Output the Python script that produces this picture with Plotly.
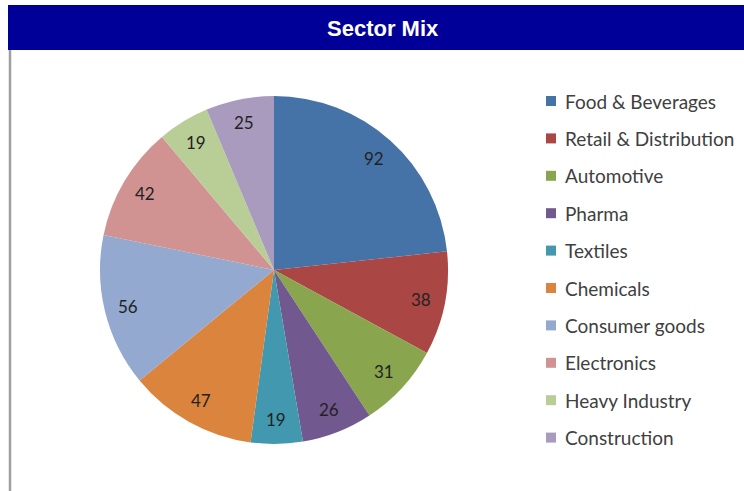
import math
import plotly.graph_objects as go

title = "Sector Mix"
sectors = ["Food & Beverages", "Retail & Distribution", "Automotive", "Pharma", "Textiles",
           "Chemicals", "Consumer goods", "Electronics", "Heavy Industry", "Construction"]
values = [92, 38, 31, 26, 19, 47, 56, 42, 19, 25]
colors = ["#4572A7", "#AA4643", "#89A54E", "#71588F", "#4198AF",
          "#DB843D", "#93A9CF", "#D19392", "#B9CD96", "#A99BBD"]

W, H = 744, 491
cx, cy, R = 274, 270, 174  # pie center/radius in pixels (from top)

fig = go.Figure(go.Pie(
    labels=sectors, values=values, sort=False, direction="clockwise", rotation=0,
    marker=dict(colors=colors, line=dict(width=0)),
    textinfo="none", hoverinfo="label+value", showlegend=False,
    domain=dict(x=[(cx - R) / W, (cx + R) / W], y=[(H - cy - R) / H, (H - cy + R) / H]),
))

shapes = [
    dict(type="rect", xref="paper", yref="paper", x0=8 / W, x1=1, y0=1 - 50 / H, y1=1 - 5 / H,
         fillcolor="#000099", line=dict(width=0), layer="below"),
    dict(type="line", xref="paper", yref="paper", x0=10 / W, x1=10 / W, y0=0, y1=1 - 50 / H,
         line=dict(color="#A0A0A0", width=2.5)),
]
annotations = [
    dict(text="<b>" + title + "</b>", x=383 / W, y=1 - 28 / H, xref="paper", yref="paper",
         showarrow=False, font=dict(family="Liberation Sans, Arial", size=22, color="white"),
         xanchor="center", yanchor="middle"),
]

# data labels positioned along slice bisectors
total = sum(values)
cum = 0
for v in values:
    mid = (cum + v / 2) / total * 2 * math.pi
    cum += v
    px = cx + 0.862 * R * math.sin(mid)
    py = cy - 0.862 * R * math.cos(mid)
    annotations.append(dict(text=str(v), x=px / W, y=1 - py / H, xref="paper", yref="paper",
                            showarrow=False, xanchor="center", yanchor="middle",
                            font=dict(family="Lato, Open Sans", size=17, color="#222222")))

# legend built from sectors/colors
for i, (s, c) in enumerate(zip(sectors, colors)):
    yc = 101 + i * 37.4
    shapes.append(dict(type="rect", xref="paper", yref="paper",
                       x0=546 / W, x1=556 / W, y0=1 - (yc + 5) / H, y1=1 - (yc - 5) / H,
                       fillcolor=c, line=dict(width=0)))
    annotations.append(dict(text=s, x=563 / W, y=1 - yc / H, xref="paper", yref="paper",
                            showarrow=False, xanchor="left", yanchor="middle",
                            font=dict(family="Lato, Open Sans", size=19, color="#404040")))

fig.update_layout(width=W, height=H, margin=dict(l=0, r=0, t=0, b=0),
                  paper_bgcolor="white", plot_bgcolor="white",
                  shapes=shapes, annotations=annotations)
fig.write_html("out.html")
